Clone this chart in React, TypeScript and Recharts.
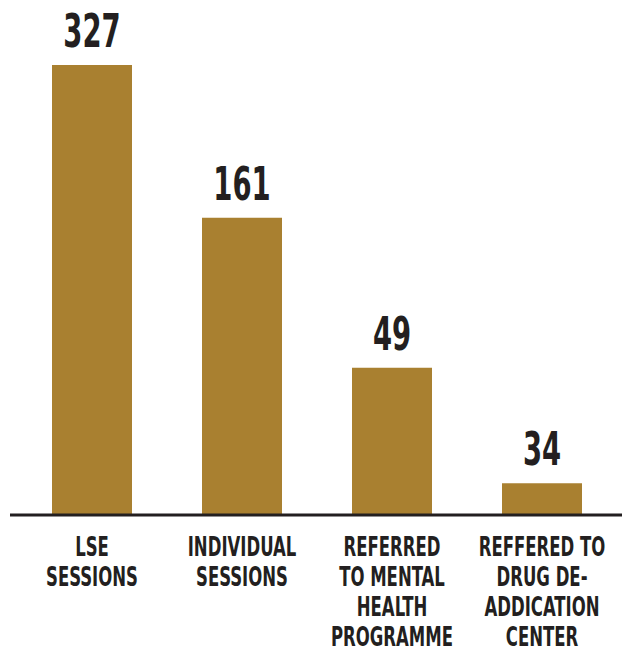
import { BarChart, Bar, XAxis, YAxis, LabelList } from 'recharts'

// categories, one line per entry in each label
const categories = [
  'LSE\nSESSIONS',
  'INDIVIDUAL\nSESSIONS',
  'REFERRED\nTO MENTAL\nHEALTH\nPROGRAMME',
  'REFFERED TO\nDRUG DE-\nADDICATION\nCENTER',
]

// numbers printed above the bars
const counts = [327, 161, 49, 34]

// the source infographic does not draw bars to scale; these are the bar
// lengths, in the same units as the tallest bar (327)
const barLengths = [327, 216, 107, 23]

const data = categories.map((name, i) => ({ name, count: counts[i], length: barLengths[i] }))

const INK = '#231f20'
const GOLD = '#a98030'
const FONT = "'Liberation Sans Narrow', 'DejaVu Sans Condensed', sans-serif"

// condensed display face isn't installed, so squeeze the text horizontally
function CategoryTick({ x, y, payload }: any) {
  const lines = String(payload.value).split('\n')
  return (
    <g transform={`translate(${x},${y}) scale(0.68,1)`}>
      <text textAnchor="middle" fill={INK} fontFamily={FONT} fontWeight="bold" fontSize={27}>
        {lines.map((l, i) => (
          <tspan key={i} x={0} y={41 + i * 30}>{l}</tspan>
        ))}
      </text>
    </g>
  )
}

function CountLabel({ x, y, width, value }: any) {
  const cx = x + width / 2
  return (
    <g transform={`translate(${cx},${y - 18}) scale(0.65,1)`}>
      <text textAnchor="middle" fill={INK} fontFamily={FONT} fontWeight="bold" fontSize={47}>
        {value}
      </text>
    </g>
  )
}

export default function App() {
  return (
    <div style={{ position: 'absolute', left: 0, top: 0, background: '#fff' }}>
      <BarChart
        width={622}
        height={654}
        data={data}
        margin={{ top: 65, right: 0, bottom: 0, left: 10 }}
        barCategoryGap={0}
      >
        <XAxis
          dataKey="name"
          height={139}
          padding={{ left: 7, right: 5 }}
          axisLine={{ stroke: INK, strokeWidth: 3 }}
          tickLine={false}
          tickSize={0}
          tickMargin={0}
          interval={0}
          tick={<CategoryTick />}
        />
        <YAxis hide domain={[0, 327]} />
        <Bar dataKey="length" fill={GOLD} barSize={80} isAnimationActive={false}>
          <LabelList dataKey="count" content={<CountLabel />} />
        </Bar>
      </BarChart>
    </div>
  )
}
